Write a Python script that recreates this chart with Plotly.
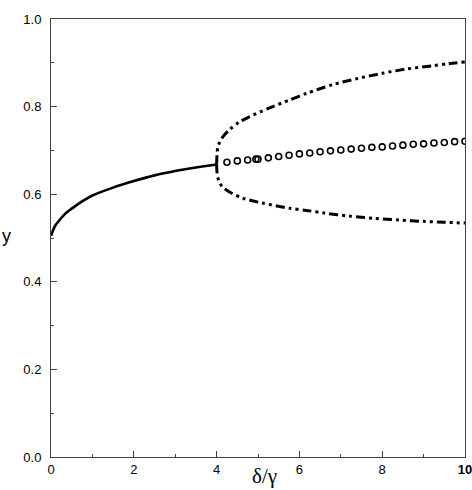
import plotly.graph_objects as go

# Stable branch (solid), x from 0 to 4
stable_x = [0, 0.1, 0.2, 0.34, 0.5, 0.66, 1.0, 1.5, 2.0, 2.5, 3.0, 3.5, 4.0]
stable_y = [0.505, 0.528, 0.540, 0.555, 0.567, 0.578, 0.597, 0.615, 0.630, 0.643, 0.653, 0.661, 0.668]

# Upper bifurcated branch
upper_x = [4.0, 4.01, 4.03, 4.08, 4.15, 4.31, 4.55, 4.8, 5.28, 5.76, 6.17, 6.8, 7.4, 8.0, 8.6, 9.2, 9.6, 10.0]
upper_y = [0.668, 0.690, 0.708, 0.720, 0.731, 0.747, 0.765, 0.777, 0.797, 0.815, 0.830, 0.850, 0.864, 0.876, 0.886, 0.893, 0.898, 0.902]

# Lower bifurcated branch
lower_x = [4.0, 4.01, 4.03, 4.07, 4.15, 4.31, 4.63, 5.1, 5.76, 6.17, 6.6, 7.2, 7.8, 8.4, 9.0, 9.5, 10.0]
lower_y = [0.668, 0.650, 0.638, 0.626, 0.616, 0.605, 0.591, 0.580, 0.568, 0.563, 0.557, 0.550, 0.545, 0.541, 0.538, 0.536, 0.534]

# Unstable branch (open circles)
circ_x = [4.25, 4.5, 4.75, 4.95, 5.0, 5.25, 5.5, 5.75, 6.0, 6.25, 6.5, 6.75, 7.0, 7.25, 7.5, 7.75,
          8.0, 8.25, 8.5, 8.75, 9.0, 9.25, 9.5, 9.75, 10.0]
circ_y = [0.673, 0.676, 0.678, 0.680, 0.680, 0.683, 0.686, 0.689, 0.692, 0.694, 0.697, 0.699, 0.701, 0.703, 0.705, 0.707,
          0.708, 0.710, 0.712, 0.714, 0.715, 0.717, 0.718, 0.720, 0.721]

x_ticks = [0, 2, 4, 6, 8, 10]
x_ticklabels = ["0", "2", "4", "6", "8", "<b>10</b>"]
y_ticks = [0.0, 0.2, 0.4, 0.6, 0.8, 1.0]
y_ticklabels = ["0.0", "0.2", "0.4", "0.6", "0.8", "1.0"]

fig = go.Figure()
dash_pat = "9px,4px,3px,4px,3px,4px"
fig.add_trace(go.Scatter(x=upper_x, y=upper_y, mode="lines",
                         line=dict(color="black", width=3, dash=dash_pat, shape="spline", smoothing=0.8)))
fig.add_trace(go.Scatter(x=lower_x, y=lower_y, mode="lines",
                         line=dict(color="black", width=3, dash=dash_pat, shape="spline", smoothing=0.8)))
fig.add_trace(go.Scatter(x=stable_x, y=stable_y, mode="lines",
                         line=dict(color="black", width=2.6, shape="spline", smoothing=0.8)))
fig.add_trace(go.Scatter(x=circ_x, y=circ_y, mode="markers",
                         marker=dict(symbol="circle-open", size=6, color="black",
                                     line=dict(width=1.6, color="black"))))

axis_common = dict(showline=True, linecolor="#444", linewidth=1, mirror=True,
                   ticks="inside", ticklen=6, tickcolor="#444", showgrid=False, zeroline=False,
                   ticklabeloverflow="allow", automargin=False,
                   tickfont=dict(family="Liberation Sans, Arial", size=13, color="black"))
fig.update_xaxes(range=[0, 10], tickvals=x_ticks, ticktext=x_ticklabels,
                 minor=dict(ticks="inside", ticklen=3, dtick=1, tickcolor="#444"), **axis_common)
fig.update_yaxes(range=[0, 1], tickvals=y_ticks, ticktext=y_ticklabels, ticklabelstandoff=6,
                 minor=dict(ticks="inside", ticklen=3, dtick=0.1, tickcolor="#444"), **axis_common)

fig.add_annotation(text="δ/γ", x=0.516, y=-0.012, xref="paper", yref="paper",
                   xanchor="center", yanchor="top", showarrow=False,
                   font=dict(family="Liberation Serif, Times New Roman", size=21, color="black"))
fig.add_annotation(text="y", x=-0.122, y=0.505, xref="paper", yref="paper",
                   xanchor="left", yanchor="middle", showarrow=False,
                   font=dict(family="Liberation Sans, Arial", size=18, color="black"))

fig.update_layout(width=472, height=490, margin=dict(l=51, r=7, t=19, b=33),
                  plot_bgcolor="white", paper_bgcolor="white", showlegend=False)
fig.write_html("out.html")
